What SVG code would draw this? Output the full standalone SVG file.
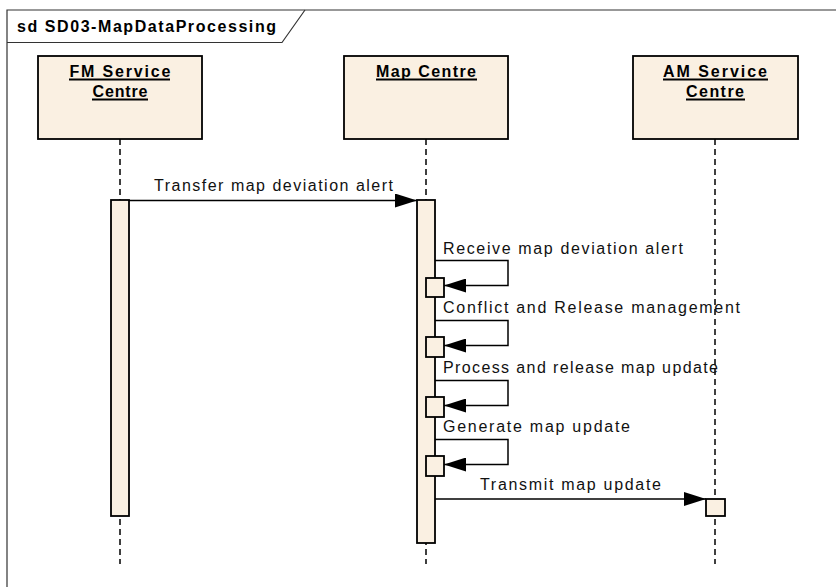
<svg xmlns="http://www.w3.org/2000/svg" width="836" height="587" viewBox="0 0 836 587">
<style>
  .frame{fill:none;stroke:#333;stroke-width:1.2}
  .box{fill:#FAF0E2;stroke:#000;stroke-width:1.8}
  .life{fill:none;stroke:#000;stroke-width:1.5;stroke-dasharray:6,4}
  .msg{fill:none;stroke:#000;stroke-width:1.5}
  .ul{stroke:#000;stroke-width:1.8}
  .lbl{font-family:"Liberation Sans",Arial,sans-serif;font-size:16px;fill:#111}
  .hdr{font-family:"Liberation Sans",Arial,sans-serif;font-size:16px;font-weight:bold;fill:#000}
  .title{font-family:"Liberation Sans",Arial,sans-serif;font-size:16px;font-weight:bold;fill:#000}
</style>
<defs>
  <marker id="arr" markerUnits="userSpaceOnUse" markerWidth="23" markerHeight="14" refX="22" refY="7" orient="auto">
    <path d="M0,0 L22,7 L0,14 z" fill="#000"/>
  </marker>
</defs>
<rect x="0" y="0" width="836" height="587" fill="#fff"/>
<g id="frame">
  <path class="frame" d="M7,587 V10 H836"/>
  <path class="frame" d="M7,42.5 H282 L305,10"/>
  <text class="title" x="17" y="32" textLength="259" lengthAdjust="spacing">sd SD03-MapDataProcessing</text>
</g>
<g id="lifelines">
  <line class="life" x1="120" y1="139" x2="120" y2="564"/>
  <line class="life" x1="426" y1="139" x2="426" y2="564"/>
  <line class="life" x1="715" y1="139" x2="715" y2="564"/>
</g>
<g id="fm">
  <rect class="box" x="38" y="56" width="164" height="83"/>
  <text class="hdr" x="120" y="77" text-anchor="middle" textLength="101" lengthAdjust="spacing">FM Service</text>
  <line class="ul" x1="69" y1="79.5" x2="170" y2="79.5"/>
  <text class="hdr" x="120" y="97" text-anchor="middle" textLength="55" lengthAdjust="spacing">Centre</text>
  <line class="ul" x1="92" y1="99.5" x2="148" y2="99.5"/>
  <rect class="box" x="111" y="200" width="18" height="316"/>
</g>
<g id="map">
  <rect class="box" x="344" y="56" width="164" height="83"/>
  <text class="hdr" x="426" y="77" text-anchor="middle" textLength="100" lengthAdjust="spacing">Map Centre</text>
  <line class="ul" x1="376" y1="79.5" x2="477" y2="79.5"/>
  <rect class="box" x="417" y="200" width="18" height="343"/>
</g>
<g id="am">
  <rect class="box" x="633" y="56" width="165" height="83"/>
  <text class="hdr" x="715" y="77" text-anchor="middle" textLength="104" lengthAdjust="spacing">AM Service</text>
  <line class="ul" x1="663" y1="79.5" x2="768" y2="79.5"/>
  <text class="hdr" x="715" y="97" text-anchor="middle" textLength="58" lengthAdjust="spacing">Centre</text>
  <line class="ul" x1="686" y1="99.5" x2="745" y2="99.5"/>
  <rect class="box" x="706" y="499" width="19" height="17"/>
</g>
<g id="self1"><rect class="box" x="426" y="278" width="18" height="19"/></g>
<g id="self2"><rect class="box" x="426" y="337" width="18" height="20"/></g>
<g id="self3"><rect class="box" x="426" y="397" width="18" height="20"/></g>
<g id="self4"><rect class="box" x="426" y="456" width="18" height="20"/></g>
<g id="connectors">
  <line class="msg" x1="129" y1="200.5" x2="417" y2="200.5" marker-end="url(#arr)"/>
  <text class="lbl" x="154" y="191" textLength="239" lengthAdjust="spacing">Transfer map deviation alert</text>
  <polyline class="msg" points="435,260.5 508,260.5 508,285.5 444,285.5" marker-end="url(#arr)"/>
  <text class="lbl" x="443" y="254" textLength="240" lengthAdjust="spacing">Receive map deviation alert</text>
  <polyline class="msg" points="435,320.5 508,320.5 508,345.5 444,345.5" marker-end="url(#arr)"/>
  <text class="lbl" x="443" y="313" textLength="297" lengthAdjust="spacing">Conflict and Release management</text>
  <polyline class="msg" points="435,380.5 508,380.5 508,405.5 444,405.5" marker-end="url(#arr)"/>
  <text class="lbl" x="443" y="373" textLength="275" lengthAdjust="spacing">Process and release map update</text>
  <polyline class="msg" points="435,439.5 508,439.5 508,464.5 444,464.5" marker-end="url(#arr)"/>
  <text class="lbl" x="443" y="432" textLength="187" lengthAdjust="spacing">Generate map update</text>
  <line class="msg" x1="435" y1="499" x2="706" y2="499" marker-end="url(#arr)"/>
  <text class="lbl" x="480" y="490" textLength="181" lengthAdjust="spacing">Transmit map update</text>
</g>
</svg>
